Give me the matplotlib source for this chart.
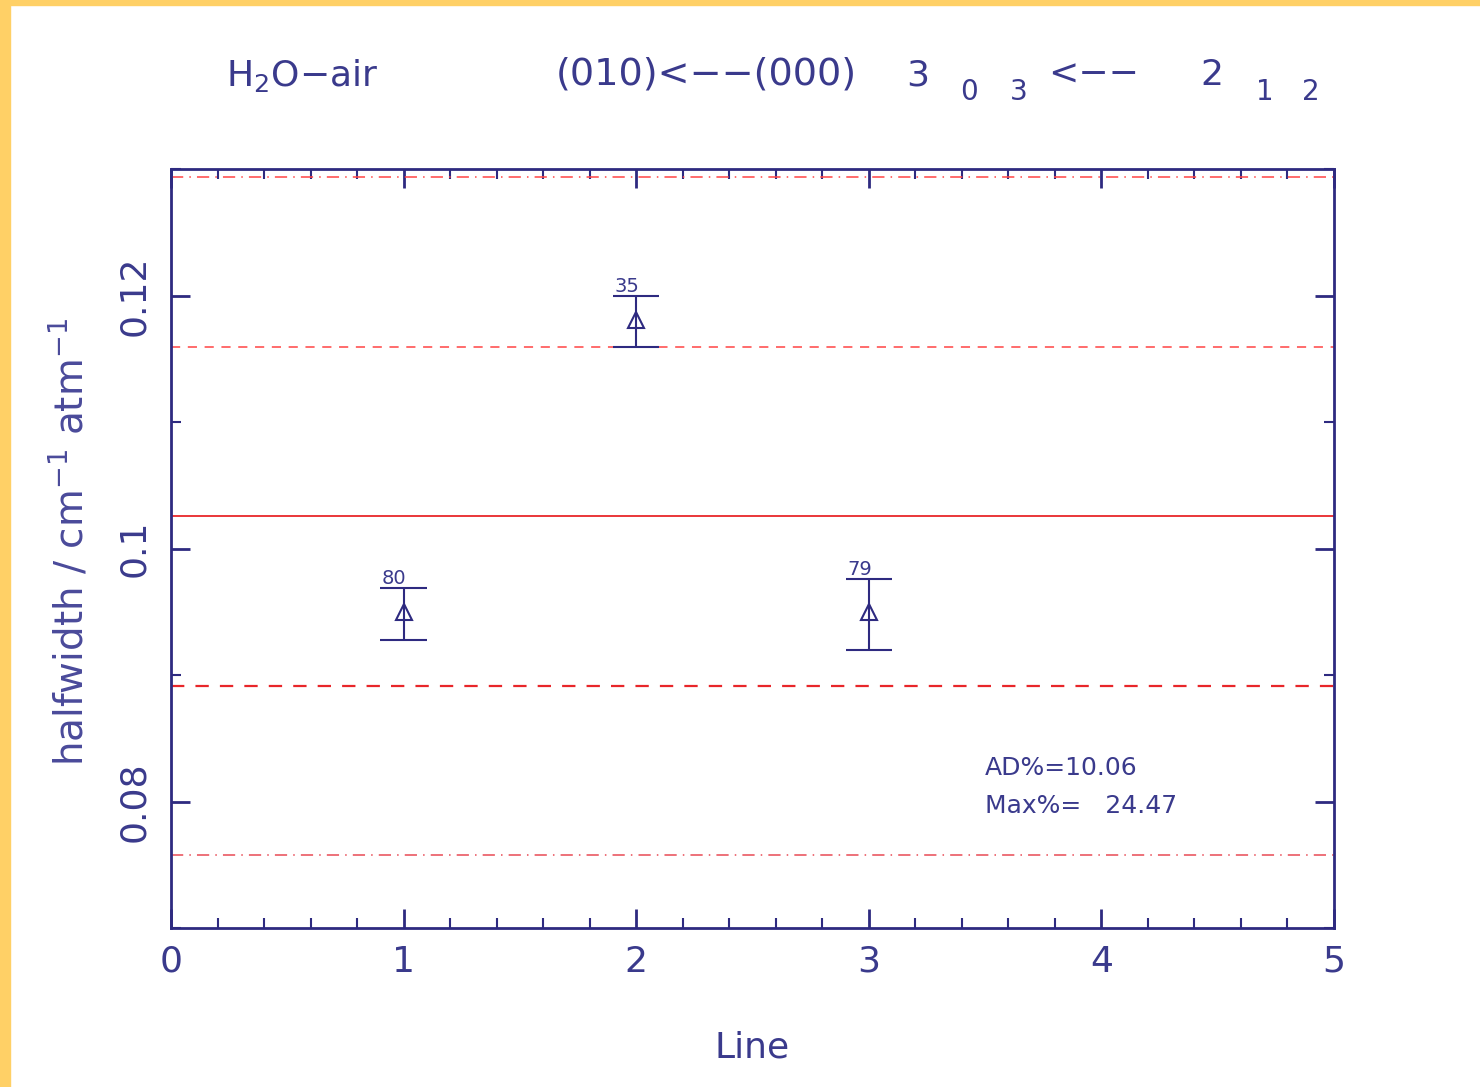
import matplotlib.pyplot as plt
import matplotlib.patches as mpatches
from matplotlib.ticker import MultipleLocator, FormatStrFormatter

# data
lines = [1, 2, 3]
halfwidth = [0.0950, 0.1181, 0.0950]
err_low = [0.0928, 0.1159, 0.0920]
err_high = [0.0969, 0.1200, 0.0976]
labels = ['80', '35', '79']

mean_val = 0.1026
sigma_lo, sigma_hi = 0.0891, 0.1159
two_sigma_lo, two_sigma_hi = 0.0758, 0.1294

ad_pct = '10.06'
max_pct = '24.47'

navy = '#2e2a80'
txt = '#3a3a8c'
red = '#e8262a'
W, H = 1480, 1087

plt.rcParams['font.family'] = ['DejaVu Sans']

fig = plt.figure(figsize=(14.8, 10.87), dpi=100)
fig.patch.set_facecolor('white')
# orange frame at left/top edge
fig.patches.append(mpatches.Rectangle((0, 0), 10 / W, 1, transform=fig.transFigure,
                                      color='#ffd066', zorder=0))
fig.patches.append(mpatches.Rectangle((0, 1 - 5 / H), 1, 5 / H, transform=fig.transFigure,
                                      color='#ffd066', zorder=0))

ax = fig.add_axes([171 / W, 1 - 928 / H, (1334 - 171) / W, (928 - 169) / H])
ax.set_xlim(0, 5)
ax.set_ylim(0.07, 0.13)

# reference lines
ax.axhline(mean_val, color=red, lw=1.3)
ax.axhline(sigma_lo, color=red, lw=1.6, ls=(0, (6, 5)))
ax.axhline(sigma_hi, color='#ff4444', lw=1.1, ls=(0, (6, 5)))
ax.axhline(two_sigma_lo, color='#e84a55', lw=1.1, ls=(0, (8, 4, 1, 4)))
ax.axhline(two_sigma_hi, color='#ff4444', lw=1.1, ls=(0, (8, 4, 1, 4)))

# error bars and points
for x, y, lo, hi, lab in zip(lines, halfwidth, err_low, err_high, labels):
    ax.vlines(x, lo, hi, color=navy, lw=1.5)
    ax.hlines([lo, hi], x - 0.1, x + 0.1, color=navy, lw=1.5)
    ax.text(x - 0.04, hi, lab, color=txt, fontsize=14, ha='center', va='bottom')
ax.plot(lines, halfwidth, ls='none', marker='^', ms=11, mfc='none', mec=navy, mew=1.5)

ax.text(985 / W, 1 - 768 / H, 'AD%=' + ad_pct, transform=fig.transFigure,
        color=txt, fontsize=18, va='center')
ax.text(985 / W, 1 - 806 / H, 'Max%=   ' + max_pct, transform=fig.transFigure,
        color=txt, fontsize=18, va='center')

# axes styling
for sp in ax.spines.values():
    sp.set_color(navy)
    sp.set_linewidth(2)
ax.xaxis.set_major_locator(MultipleLocator(1))
ax.xaxis.set_minor_locator(MultipleLocator(0.2))
ax.yaxis.set_major_locator(MultipleLocator(0.02))
ax.yaxis.set_minor_locator(MultipleLocator(0.01))
ax.yaxis.set_major_formatter(FormatStrFormatter('%g'))
ax.tick_params(which='both', direction='in', color=navy, top=True, right=True,
               labelcolor=txt, labelsize=26)
ax.tick_params(which='major', length=14, width=2)
ax.tick_params(which='minor', length=7, width=1.5)
ax.tick_params(axis='x', pad=12)
ax.tick_params(axis='y', pad=14)
for t in ax.get_yticklabels():
    t.set_rotation(90)
    t.set_va('center')

fig.text(752 / W, 1 - 1047 / H, 'Line', color=txt, fontsize=26, ha='center', va='center')
fig.text(70 / W, 1 - 542 / H, 'halfwidth / cm$^{-1}$ atm$^{-1}$', color='#4a4a9a',
         fontsize=28, rotation=90, ha='center', va='center')

# title pieces
fig.text(226 / W, 1 - 75 / H, 'H$_2$O\u2212air', color=txt, fontsize=26, va='center')
fig.text(556 / W, 1 - 75 / H, '(010)<\u2212\u2212(000)', color=txt, fontsize=27.5, va='center')
fig.text(906 / W, 1 - 75 / H, '3', color=txt, fontsize=26, va='center')
fig.text(960 / W, 1 - 92 / H, '0', color=txt, fontsize=20, va='center')
fig.text(1010 / W, 1 - 92 / H, '3', color=txt, fontsize=20, va='center')
fig.text(1048 / W, 1 - 75 / H, '<\u2212\u2212', color=txt, fontsize=26, va='center')
fig.text(1200 / W, 1 - 75 / H, '2', color=txt, fontsize=26, va='center')
fig.text(1256 / W, 1 - 92 / H, '1', color=txt, fontsize=20, va='center')
fig.text(1302 / W, 1 - 92 / H, '2', color=txt, fontsize=20, va='center')

fig.savefig('out.png', dpi=100)
